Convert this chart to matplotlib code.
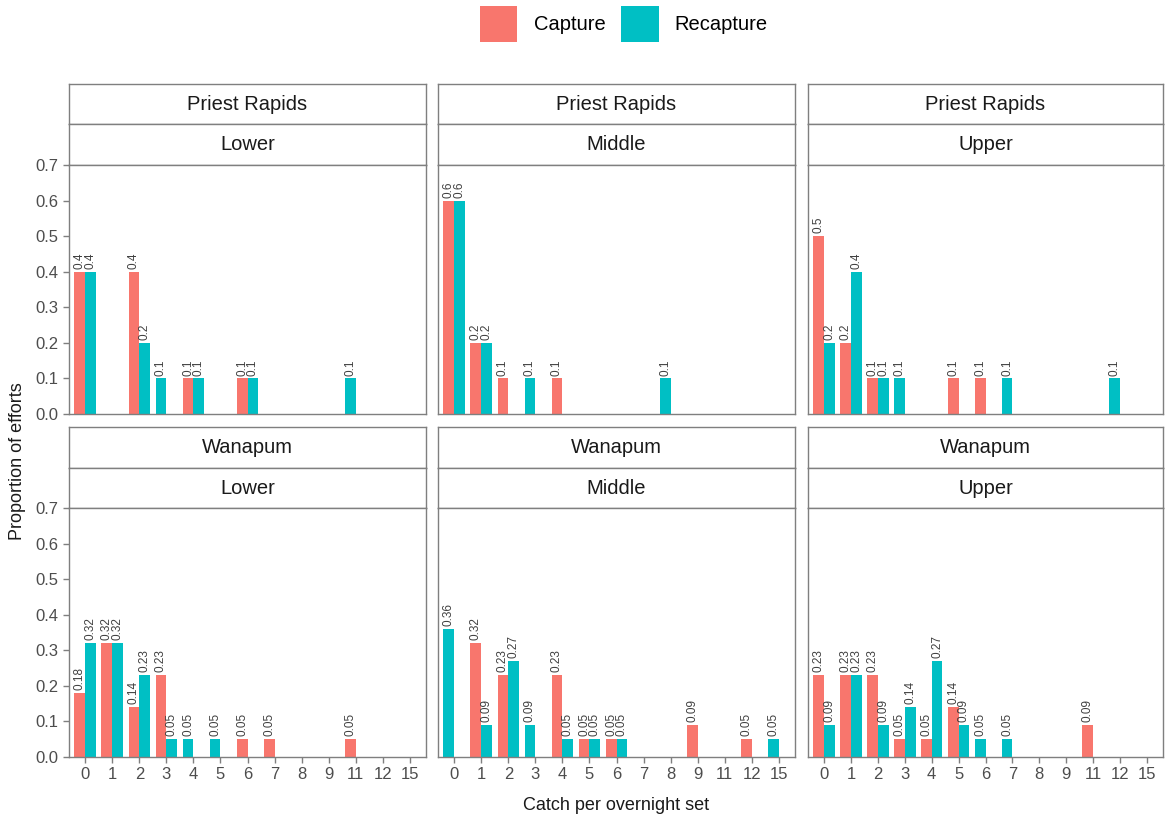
import matplotlib.pyplot as plt
import numpy as np
from matplotlib.patches import Patch

plt.rcParams['font.family'] = ['Liberation Sans', 'DejaVu Sans']

nan = np.nan

# catch per overnight set (discrete levels)
catch_levels = ["0", "1", "2", "3", "4", "5", "6", "7", "8", "9", "11", "12", "15"]
dams = ["Priest Rapids", "Wanapum"]
sections = ["Lower", "Middle", "Upper"]

# proportion of efforts per catch level, nan = no efforts with that catch
pr_lower_cap = [0.4, nan, 0.4, nan, 0.1, nan, 0.1, nan, nan, nan, nan, nan, nan]
pr_lower_rec = [0.4, nan, 0.2, 0.1, 0.1, nan, 0.1, nan, nan, nan, 0.1, nan, nan]
pr_middle_cap = [0.6, 0.2, 0.1, nan, 0.1, nan, nan, nan, nan, nan, nan, nan, nan]
pr_middle_rec = [0.6, 0.2, nan, 0.1, nan, nan, nan, nan, 0.1, nan, nan, nan, nan]
pr_upper_cap = [0.5, 0.2, 0.1, nan, nan, 0.1, 0.1, nan, nan, nan, nan, nan, nan]
pr_upper_rec = [0.2, 0.4, 0.1, 0.1, nan, nan, nan, 0.1, nan, nan, nan, 0.1, nan]
wa_lower_cap = [0.18, 0.32, 0.14, 0.23, nan, nan, 0.05, 0.05, nan, nan, 0.05, nan, nan]
wa_lower_rec = [0.32, 0.32, 0.23, 0.05, 0.05, 0.05, nan, nan, nan, nan, nan, nan, nan]
wa_middle_cap = [nan, 0.32, 0.23, nan, 0.23, 0.05, 0.05, nan, nan, 0.09, nan, 0.05, nan]
wa_middle_rec = [0.36, 0.09, 0.27, 0.09, 0.05, 0.05, 0.05, nan, nan, nan, nan, nan, 0.05]
wa_upper_cap = [0.23, 0.23, 0.23, 0.05, 0.05, 0.14, nan, nan, nan, nan, 0.09, nan, nan]
wa_upper_rec = [0.09, 0.23, 0.09, 0.14, 0.27, 0.09, 0.05, 0.05, nan, nan, nan, nan, nan]

capture = [[pr_lower_cap, pr_middle_cap, pr_upper_cap],
           [wa_lower_cap, wa_middle_cap, wa_upper_cap]]
recapture = [[pr_lower_rec, pr_middle_rec, pr_upper_rec],
             [wa_lower_rec, wa_middle_rec, wa_upper_rec]]

CAP_COL = "#F8766D"
REC_COL = "#00BFC4"
EDGE = "#7f7f7f"
W, H = 1165, 817

fig = plt.figure(figsize=(W / 100, H / 100), dpi=100)


def px_box(x0, y0, x1, y1):
    return [x0 / W, 1 - y1 / H, (x1 - x0) / W, (y1 - y0) / H]


def strip(x0, x1, y0, y1, label):
    sax = fig.add_axes(px_box(x0, y0, x1, y1))
    sax.set_xticks([])
    sax.set_yticks([])
    for sp in sax.spines.values():
        sp.set_color(EDGE)
        sp.set_linewidth(1.0)
    sax.text(0.5, 0.5, label, ha="center", va="center", fontsize=14.5,
             color="#1a1a1a", transform=sax.transAxes)


cols = [(69, 426), (438, 795), (808, 1163)]
rows = [(84, 124, 165, 414), (427, 468, 508, 757)]
x = np.arange(len(catch_levels))
bw = 0.4

for r, (s0, s1, p0, p1) in enumerate(rows):
    for c, (x0, x1) in enumerate(cols):
        strip(x0, x1, s0, s1, dams[r])
        strip(x0, x1, s1, p0, sections[c])
        ax = fig.add_axes(px_box(x0, p0, x1, p1))
        cap = np.array(capture[r][c], dtype=float)
        rec = np.array(recapture[r][c], dtype=float)
        both = ~np.isnan(cap) & ~np.isnan(rec)
        # dodge: pairs sit side by side, a lone bar takes the left slot
        cap_x = x - bw / 2
        rec_x = np.where(both, x + bw / 2, x - bw / 2)
        for xs, vals, col in ((cap_x, cap, CAP_COL), (rec_x, rec, REC_COL)):
            ok = ~np.isnan(vals)
            ax.bar(xs[ok], vals[ok], width=bw, color=col, linewidth=0)
            for xi, v in zip(xs[ok], vals[ok]):
                ax.annotate(f"{v:g}", (xi, v), xytext=(0, 2),
                            textcoords="offset points", rotation=90,
                            ha="center", va="bottom", fontsize=8.5,
                            color="#404040")
        ax.set_xlim(-0.6, len(catch_levels) - 0.4)
        ax.set_ylim(0, 0.7)
        ax.set_yticks(np.arange(0, 0.71, 0.1))
        ax.set_xticks(x)
        for sp in ax.spines.values():
            sp.set_color(EDGE)
            sp.set_linewidth(1.0)
        ax.tick_params(colors=EDGE, labelcolor="#4d4d4d", labelsize=12,
                       length=4, width=1)
        if c == 0:
            ax.set_yticklabels([f"{v:.1f}" for v in np.arange(0, 0.71, 0.1)])
        else:
            ax.tick_params(axis="y", length=0, labelleft=False)
        if r == 1:
            ax.set_xticklabels(catch_levels)
        else:
            ax.tick_params(axis="x", length=0, labelbottom=False)

fig.text(616 / W, 1 - 806 / H, "Catch per overnight set", ha="center",
         va="center", fontsize=13, color="#1a1a1a")
fig.text(18 / W, 1 - 461 / H, "Proportion of efforts", ha="center",
         va="center", rotation=90, fontsize=13, color="#1a1a1a")

handles = [Patch(facecolor=CAP_COL, label="Capture"),
           Patch(facecolor=REC_COL, label="Recapture")]
fig.legend(handles=handles, loc="upper center", ncol=2, frameon=False,
           bbox_to_anchor=(624 / W, 1 - 6 / H), fontsize=14.5,
           handlelength=1.85, handleheight=2.4, handletextpad=0.8,
           columnspacing=0.8, borderpad=0, borderaxespad=0)

fig.savefig("out.png", dpi=100)
